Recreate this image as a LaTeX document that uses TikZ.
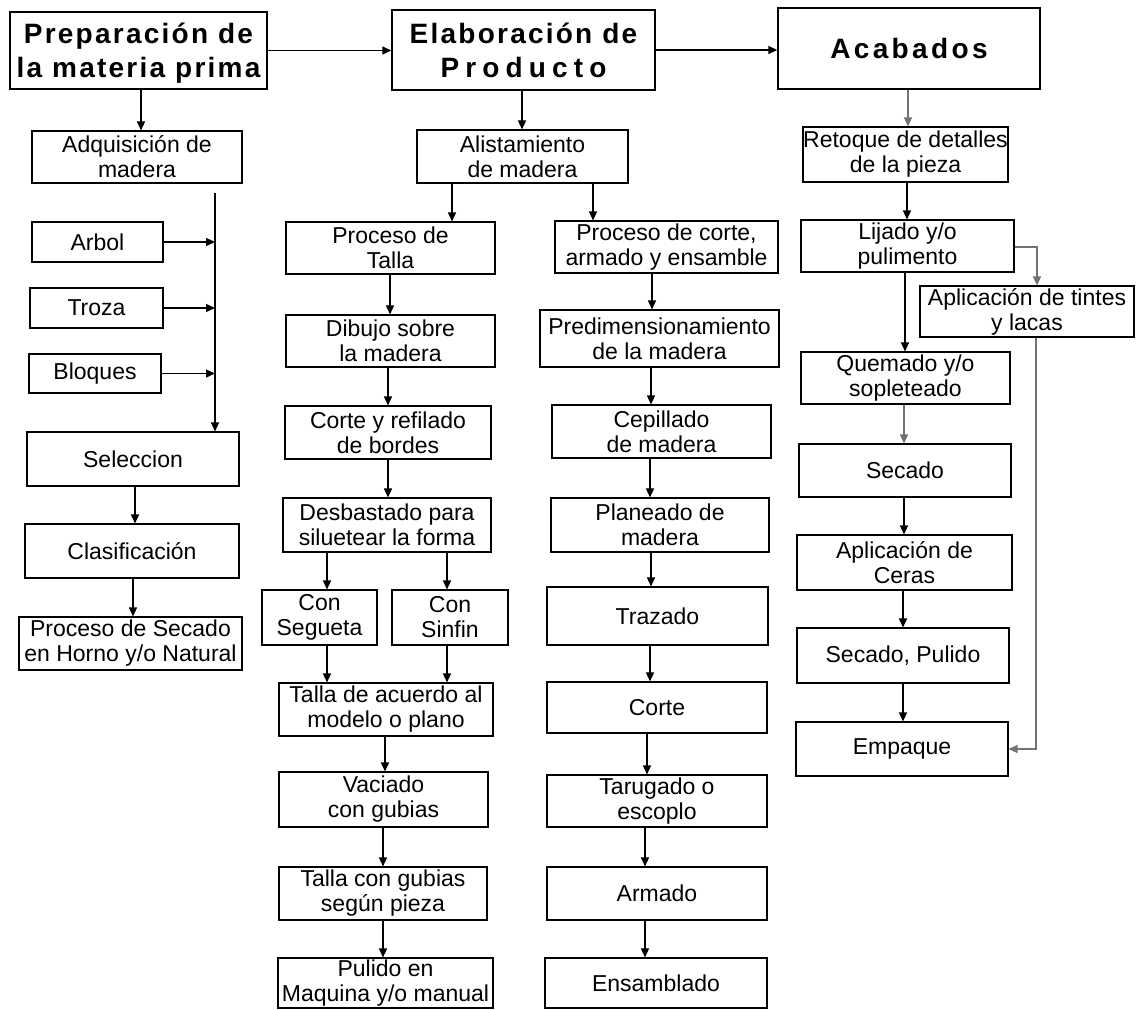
\documentclass[tikz,border=0pt]{standalone}
\usepackage{fontspec}
\setmainfont{Liberation Sans}
\newfontfamily\hfont{Liberation Sans}[LetterSpace=8]
\usetikzlibrary{arrows.meta}

% box from its corners (x1,y1)-(x2,y2), y grows downwards
\newcommand\mkbox[7][box]{%
  \node[#1,minimum width={(#5-#3)*1pt},minimum height={(#6-#4)*1pt}]
    (#2) at ({(#3+#5)/2},{(#4+#6)/2}) {#7};}
% vertical arrow between two stacked boxes at a given x
\newcommand\vlink[4][]{\draw[arr,#1] (#2.south -| #4,0) -- (#3.north -| #4,0);}

\tikzset{
  box/.style={draw, line width=1.1pt, inner sep=0pt, align=center,
              font=\fontsize{23}{25}\selectfont},
  head/.style={box, line width=1.3pt, text depth=-3pt,
               font=\hfont\bfseries\fontsize{28}{34}\selectfont},
  arr/.style={line width=1.3pt, -{Triangle[length=9pt,width=8pt]}},
  faint/.style={color=black!55},
}

\begin{document}
\begin{tikzpicture}[x=1pt,y=-1pt]
\fill[white] (0,0) rectangle (1136,1010);
\useasboundingbox (0,0) rectangle (1136,1010);

% stage headers
\mkbox[head]{prep}{10}{12}{267}{89}{Preparación de\\la materia prima}
\mkbox[head]{elab}{392}{10}{655}{90}{Elaboración de\\{\addfontfeature{LetterSpace=22}Producto}}
\mkbox[head]{acab}{778}{8}{1040}{89}{{\addfontfeature{LetterSpace=12}Acabados}}

% raw material preparation
\mkbox{adq}{32}{131}{242}{183}{Adquisición de\\madera}
\mkbox{arbol}{32}{222}{163}{262}{Arbol}
\mkbox{troza}{30}{288}{163}{328}{Troza}
\mkbox{bloq}{29}{354}{161}{393}{Bloques}
\mkbox{selec}{27}{432}{239}{486}{Seleccion}
\mkbox{clasif}{25}{524}{239}{578}{Clasificación}
\mkbox{secn}{19}{617}{242}{670}{Proceso de Secado\\en Horno y/o Natural}

% product making: carving branch
\mkbox{alist}{417}{130}{628}{183}{Alistamiento\\de madera}
\mkbox{talla}{286}{222}{495}{274}{Proceso de\\Talla}
\mkbox{dibujo}{286}{315}{495}{367}{Dibujo sobre\\la madera}
\mkbox{refil}{285}{406}{491}{459}{Corte y refilado\\de bordes}
\mkbox{desb}{283}{498}{491}{552}{Desbastado para\\siluetear la forma}
\mkbox{segueta}{262}{590}{377}{645}{Con\\Segueta}
\mkbox{sinfin}{392}{590}{508}{645}{Con\\Sinfin}
\mkbox{acuerdo}{279}{683}{493}{736}{Talla de acuerdo al\\modelo o plano}
\mkbox{vaciado}{279}{772}{488}{827}{Vaciado\\con gubias}
\mkbox{gubias}{279}{867}{487}{920}{Talla con gubias\\según pieza}
\mkbox{pulido}{278}{958}{493}{1008}{Pulido en\\Maquina y/o manual}

% product making: cutting and assembly branch
\mkbox{pca}{555}{221}{778}{273}{Proceso de corte,\\armado y ensamble}
\mkbox{predim}{540}{310}{779}{367}{Predimensionamiento\\de la madera}
\mkbox{cepill}{552}{405}{771}{458}{Cepillado\\de madera}
\mkbox{planeado}{551}{498}{769}{552}{Planeado de\\madera}
\mkbox{trazado}{547}{587}{768}{645}{Trazado}
\mkbox{corte}{547}{682}{767}{733}{Corte}
\mkbox{tarug}{547}{775}{767}{827}{Tarugado o\\escoplo}
\mkbox{armado}{547}{867}{767}{920}{Armado}
\mkbox{ensam}{545}{958}{767}{1008}{Ensamblado}

% finishing
\mkbox{retoque}{803}{127}{1008}{182}{Retoque de detalles\\de la pieza}
\mkbox{lijado}{801}{220}{1014}{272}{Lijado y/o\\pulimento}
\mkbox{aplic}{920}{286}{1134}{337}{Aplicación de tintes\\y lacas}
\mkbox{quemado}{801}{352}{1010}{404}{Quemado y/o\\sopleteado}
\mkbox{secado}{799}{444}{1011}{497}{Secado}
\mkbox{ceras}{797}{535}{1012}{590}{Aplicación de\\Ceras}
\mkbox{secpul}{797}{628}{1009}{683}{Secado, Pulido}
\mkbox{empaque}{796}{722}{1008}{776}{Empaque}

% flow between stages
\draw[arr] (prep.east) -- (elab.west |- prep.east);
\draw[arr] (elab.east) -- (acab.west |- elab.east);

% raw material flow
\vlink{prep}{adq}{141}
\coordinate (trunk) at (215,193);
\draw[arr] (trunk) -- (selec.north -| trunk);
\draw[arr] (arbol.east) -- (arbol.east -| trunk);
\draw[arr] (troza.east) -- (troza.east -| trunk);
\draw[arr] (bloq.east) -- (bloq.east -| trunk);
\vlink{selec}{clasif}{135}
\vlink{clasif}{secn}{133}

% product flow
\vlink{elab}{alist}{522}
\vlink{alist}{talla}{452}
\vlink{alist}{pca}{593}
\vlink{talla}{dibujo}{390}
\vlink{dibujo}{refil}{388}
\vlink{refil}{desb}{388}
\vlink{desb}{segueta}{327}
\vlink{desb}{sinfin}{447}
\vlink{segueta}{acuerdo}{327}
\vlink{sinfin}{acuerdo}{447}
\vlink{acuerdo}{vaciado}{385}
\vlink{vaciado}{gubias}{383}
\vlink{gubias}{pulido}{383}
\vlink{pca}{predim}{652}
\vlink{predim}{cepill}{651}
\vlink{cepill}{planeado}{650}
\vlink{planeado}{trazado}{651}
\vlink{trazado}{corte}{650}
\vlink{corte}{tarug}{647}
\vlink{tarug}{armado}{645}
\vlink{armado}{ensam}{645}

% finishing flow
\vlink[faint]{acab}{retoque}{908}
\vlink{retoque}{lijado}{907}
\vlink{lijado}{quemado}{905}
\vlink[faint]{quemado}{secado}{904}
\vlink{secado}{ceras}{904}
\vlink{ceras}{secpul}{903}
\vlink{secpul}{empaque}{903}
\draw[arr,faint] (lijado.east |- 0,247) -| (aplic.north -| 1037,0);
\draw[arr,faint] (aplic.south -| 1036,0) |- (empaque.east);
\end{tikzpicture}
\end{document}
